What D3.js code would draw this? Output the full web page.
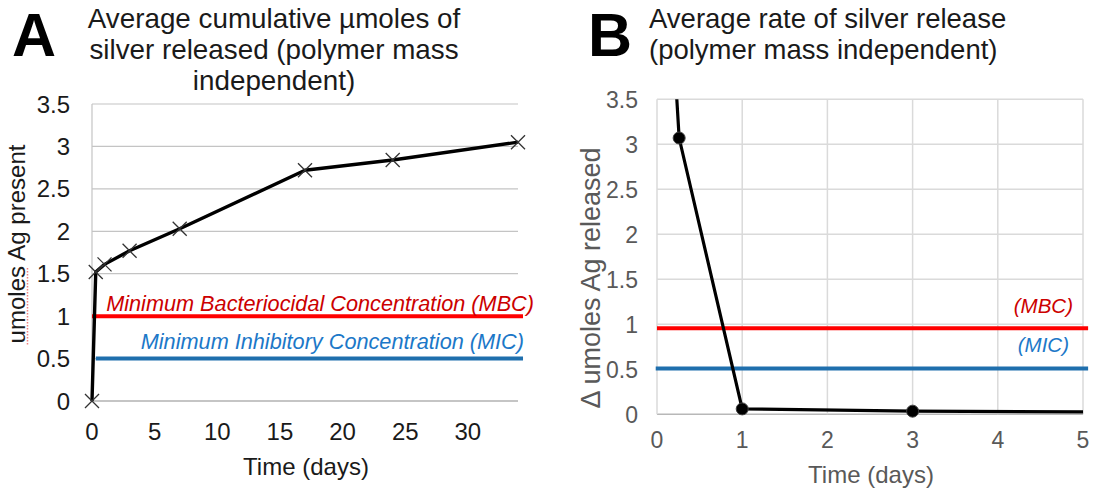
<!DOCTYPE html>
<html>
<head>
<meta charset="utf-8">
<script src="https://cdn.jsdelivr.net/npm/d3@7"></script>
<style>
	body { margin: 0; background: #fff; }
	svg { display: block; font-family: Arial, "Liberation Sans", sans-serif; }
</style>
</head>
<body>
<svg id="chart" width="1093" height="495"></svg>
<script>

// panel A : cumulative umoles (days, umoles)
const cumDays = [0, 0.3, 1, 3, 7, 17, 24, 34]
const cumValues = [0, 1.52, 1.61, 1.77, 2.03, 2.72, 2.84, 3.05]

// panel B : rate of release (days, delta umoles)
const rateDays = [0.0417, 0.26, 1, 3, 7]
const rateValues = [6.5, 3.07, 0.06, 0.035, 0.02]
const rateMarked = [false, true, true, true, false]

// thresholds
const mbcA = 1.0
const micA = 0.5
const mbcB = 0.955
const micB = 0.51

const ticksAx = [0, 5, 10, 15, 20, 25, 30]
const ticksAy = [0, 0.5, 1, 1.5, 2, 2.5, 3, 3.5]
const ticksBx = [0, 1, 2, 3, 4, 5]
const ticksBy = [0, 0.5, 1, 1.5, 2, 2.5, 3, 3.5]

const titleA = ['Average cumulative \u00b5moles of', 'silver released (polymer mass', 'independent)']
const titleB = ['Average rate of silver release', '(polymer mass independent)']

const red = '#ff0000'
const redText = '#cc0000'
const blue = '#1f6fad'
const blueText = '#1c78c8'

let svg = d3.select('#chart')

// ---------- panel A ----------

let xA = d3.scaleLinear().domain([0, 34]).range([92, 518])
let yA = d3.scaleLinear().domain([0, 3.5]).range([401, 104])

let gA = svg.append('g')

gA.append('g')
	.selectAll('line')
	.data(ticksAy.filter(d => d > 0))
	.join('line')
	.attr('x1', xA(0))
	.attr('x2', xA(34))
	.attr('y1', d => yA(d))
	.attr('y2', d => yA(d))
	.attr('stroke', '#c4c4c4')
	.attr('stroke-width', 1.2)

// axis lines
gA.append('line')
	.attr('x1', xA(0)).attr('x2', xA(34))
	.attr('y1', yA(0)).attr('y2', yA(0))
	.attr('stroke', '#8c8c8c').attr('stroke-width', 1.2)

gA.append('line')
	.attr('x1', xA(0)).attr('x2', xA(0))
	.attr('y1', yA(0)).attr('y2', yA(3.5))
	.attr('stroke', '#c4c4c4').attr('stroke-width', 1.2)

gA.append('g')
	.selectAll('text')
	.data(ticksAy)
	.join('text')
	.attr('x', 70)
	.attr('y', d => yA(d) + 8.5)
	.attr('text-anchor', 'end')
	.attr('font-size', 24)
	.attr('fill', '#1a1a1a')
	.text(d => d)

gA.append('g')
	.selectAll('text')
	.data(ticksAx)
	.join('text')
	.attr('x', d => xA(d))
	.attr('y', 440)
	.attr('text-anchor', 'middle')
	.attr('font-size', 24)
	.attr('fill', '#1a1a1a')
	.text(d => d)

// thresholds
gA.append('line')
	.attr('x1', xA(0)).attr('x2', xA(34.4))
	.attr('y1', yA(mbcA)).attr('y2', yA(mbcA))
	.attr('stroke', red).attr('stroke-width', 4)

gA.append('line')
	.attr('x1', xA(0.3)).attr('x2', xA(34.4))
	.attr('y1', yA(micA)).attr('y2', yA(micA))
	.attr('stroke', blue).attr('stroke-width', 4)

gA.append('text')
	.attr('x', 534)
	.attr('y', yA(mbcA) - 5)
	.attr('text-anchor', 'end')
	.attr('font-size', 21.7)
	.attr('font-style', 'italic')
	.attr('fill', redText)
	.text('Minimum Bacteriocidal Concentration (MBC)')

gA.append('text')
	.attr('x', 524)
	.attr('y', yA(micA) - 10)
	.attr('text-anchor', 'end')
	.attr('font-size', 21.7)
	.attr('font-style', 'italic')
	.attr('fill', blueText)
	.text('Minimum Inhibitory Concentration (MIC)')

let lineA = d3.line()
	.x((d, i) => xA(cumDays[i]))
	.y(d => yA(d))

gA.append('path')
	.attr('d', lineA(cumValues))
	.attr('fill', 'none')
	.attr('stroke', '#000')
	.attr('stroke-width', 3.4)
	.attr('stroke-linejoin', 'round')

gA.append('g')
	.selectAll('path')
	.data(cumValues)
	.join('path')
	.attr('transform', (d, i) => 'translate(' + xA(cumDays[i]) + ',' + yA(d) + ')')
	.attr('d', d3.symbol(d3.symbolX, 130))
	.attr('fill', 'none')
	.attr('stroke', '#333')
	.attr('stroke-width', 1.3)

// y label + spellcheck squiggle
gA.append('text')
	.attr('transform', 'translate(25,244) rotate(-90)')
	.attr('text-anchor', 'middle')
	.attr('font-size', 24)
	.attr('fill', '#1a1a1a')
	.text('umoles Ag present')

gA.append('line')
	.attr('x1', 27.5).attr('x2', 27.5)
	.attr('y1', 268).attr('y2', 346)
	.attr('stroke', '#f08080')
	.attr('stroke-width', 1.5)
	.attr('stroke-dasharray', '1.5,1.5')

gA.append('text')
	.attr('x', 306)
	.attr('y', 475)
	.attr('text-anchor', 'middle')
	.attr('font-size', 24)
	.attr('fill', '#1a1a1a')
	.text('Time (days)')

gA.append('text')
	.attr('x', 12)
	.attr('y', 56)
	.attr('font-size', 61)
	.attr('font-weight', 'bold')
	.attr('fill', '#000')
	.text('A')

gA.append('g')
	.selectAll('text')
	.data(titleA)
	.join('text')
	.attr('x', 274)
	.attr('y', (d, i) => 28 + i * 31)
	.attr('text-anchor', 'middle')
	.attr('font-size', 27.8)
	.attr('fill', '#1a1a1a')
	.text(d => d)

// ---------- panel B ----------

let xB = d3.scaleLinear().domain([0, 5]).range([657, 1083])
let yB = d3.scaleLinear().domain([0, 3.5]).range([414.3, 99.3])

let gB = svg.append('g')

svg.append('defs')
	.append('clipPath')
	.attr('id', 'clipB')
	.append('rect')
	.attr('x', xB(0))
	.attr('y', yB(3.5))
	.attr('width', xB(5) - xB(0))
	.attr('height', yB(0) - yB(3.5))

gB.append('g')
	.selectAll('line')
	.data(ticksBy)
	.join('line')
	.attr('x1', xB(0))
	.attr('x2', xB(5))
	.attr('y1', d => yB(d))
	.attr('y2', d => yB(d))
	.attr('stroke', d => d == 0 ? '#b8b8b8' : '#dadada')
	.attr('stroke-width', 1.5)

gB.append('g')
	.selectAll('line')
	.data(ticksBx)
	.join('line')
	.attr('x1', d => xB(d))
	.attr('x2', d => xB(d))
	.attr('y1', yB(0))
	.attr('y2', yB(3.5))
	.attr('stroke', '#dadada')
	.attr('stroke-width', 1.5)

gB.append('g')
	.selectAll('text')
	.data(ticksBy)
	.join('text')
	.attr('x', 638)
	.attr('y', d => yB(d) + 8.5)
	.attr('text-anchor', 'end')
	.attr('font-size', 23)
	.attr('fill', '#595959')
	.text(d => d)

gB.append('g')
	.selectAll('text')
	.data(ticksBx)
	.join('text')
	.attr('x', d => xB(d))
	.attr('y', 448)
	.attr('text-anchor', 'middle')
	.attr('font-size', 23)
	.attr('fill', '#595959')
	.text(d => d)

gB.append('line')
	.attr('x1', xB(0)).attr('x2', xB(5.06))
	.attr('y1', yB(mbcB)).attr('y2', yB(mbcB))
	.attr('stroke', red).attr('stroke-width', 4)

gB.append('line')
	.attr('x1', xB(-0.015)).attr('x2', xB(5.06))
	.attr('y1', yB(micB)).attr('y2', yB(micB))
	.attr('stroke', blue).attr('stroke-width', 4)

gB.append('text')
	.attr('x', 1073)
	.attr('y', 313)
	.attr('text-anchor', 'end')
	.attr('font-size', 20.5)
	.attr('font-style', 'italic')
	.attr('fill', redText)
	.text('(MBC)')

gB.append('text')
	.attr('x', 1069)
	.attr('y', 352)
	.attr('text-anchor', 'end')
	.attr('font-size', 20.5)
	.attr('font-style', 'italic')
	.attr('fill', blueText)
	.text('(MIC)')

let lineB = d3.line()
	.x((d, i) => xB(rateDays[i]))
	.y(d => yB(d))

let plotB = gB.append('g').attr('clip-path', 'url(#clipB)')

plotB.append('path')
	.attr('d', lineB(rateValues))
	.attr('fill', 'none')
	.attr('stroke', '#000')
	.attr('stroke-width', 3.2)
	.attr('stroke-linejoin', 'round')

gB.append('g')
	.selectAll('circle')
	.data(rateValues.map((v, i) => ({ day: rateDays[i], v: v, m: rateMarked[i] })).filter(d => d.m))
	.join('circle')
	.attr('cx', d => xB(d.day))
	.attr('cy', d => yB(d.v))
	.attr('r', 6)
	.attr('fill', '#000')
	.attr('stroke', '#404040')
	.attr('stroke-width', 1)

gB.append('text')
	.attr('transform', 'translate(600,278) rotate(-90)')
	.attr('text-anchor', 'middle')
	.attr('font-size', 27)
	.attr('fill', '#595959')
	.text('\u0394 umoles Ag released')

gB.append('text')
	.attr('x', 871)
	.attr('y', 483)
	.attr('text-anchor', 'middle')
	.attr('font-size', 24)
	.attr('fill', '#595959')
	.text('Time (days)')

gB.append('text')
	.attr('x', 588)
	.attr('y', 56)
	.attr('font-size', 61)
	.attr('font-weight', 'bold')
	.attr('fill', '#000')
	.text('B')

gB.append('g')
	.selectAll('text')
	.data(titleB)
	.join('text')
	.attr('x', 649)
	.attr('y', (d, i) => 28 + i * 31)
	.attr('font-size', 27.5)
	.attr('fill', '#1a1a1a')
	.text(d => d)

</script>
</body>
</html>
